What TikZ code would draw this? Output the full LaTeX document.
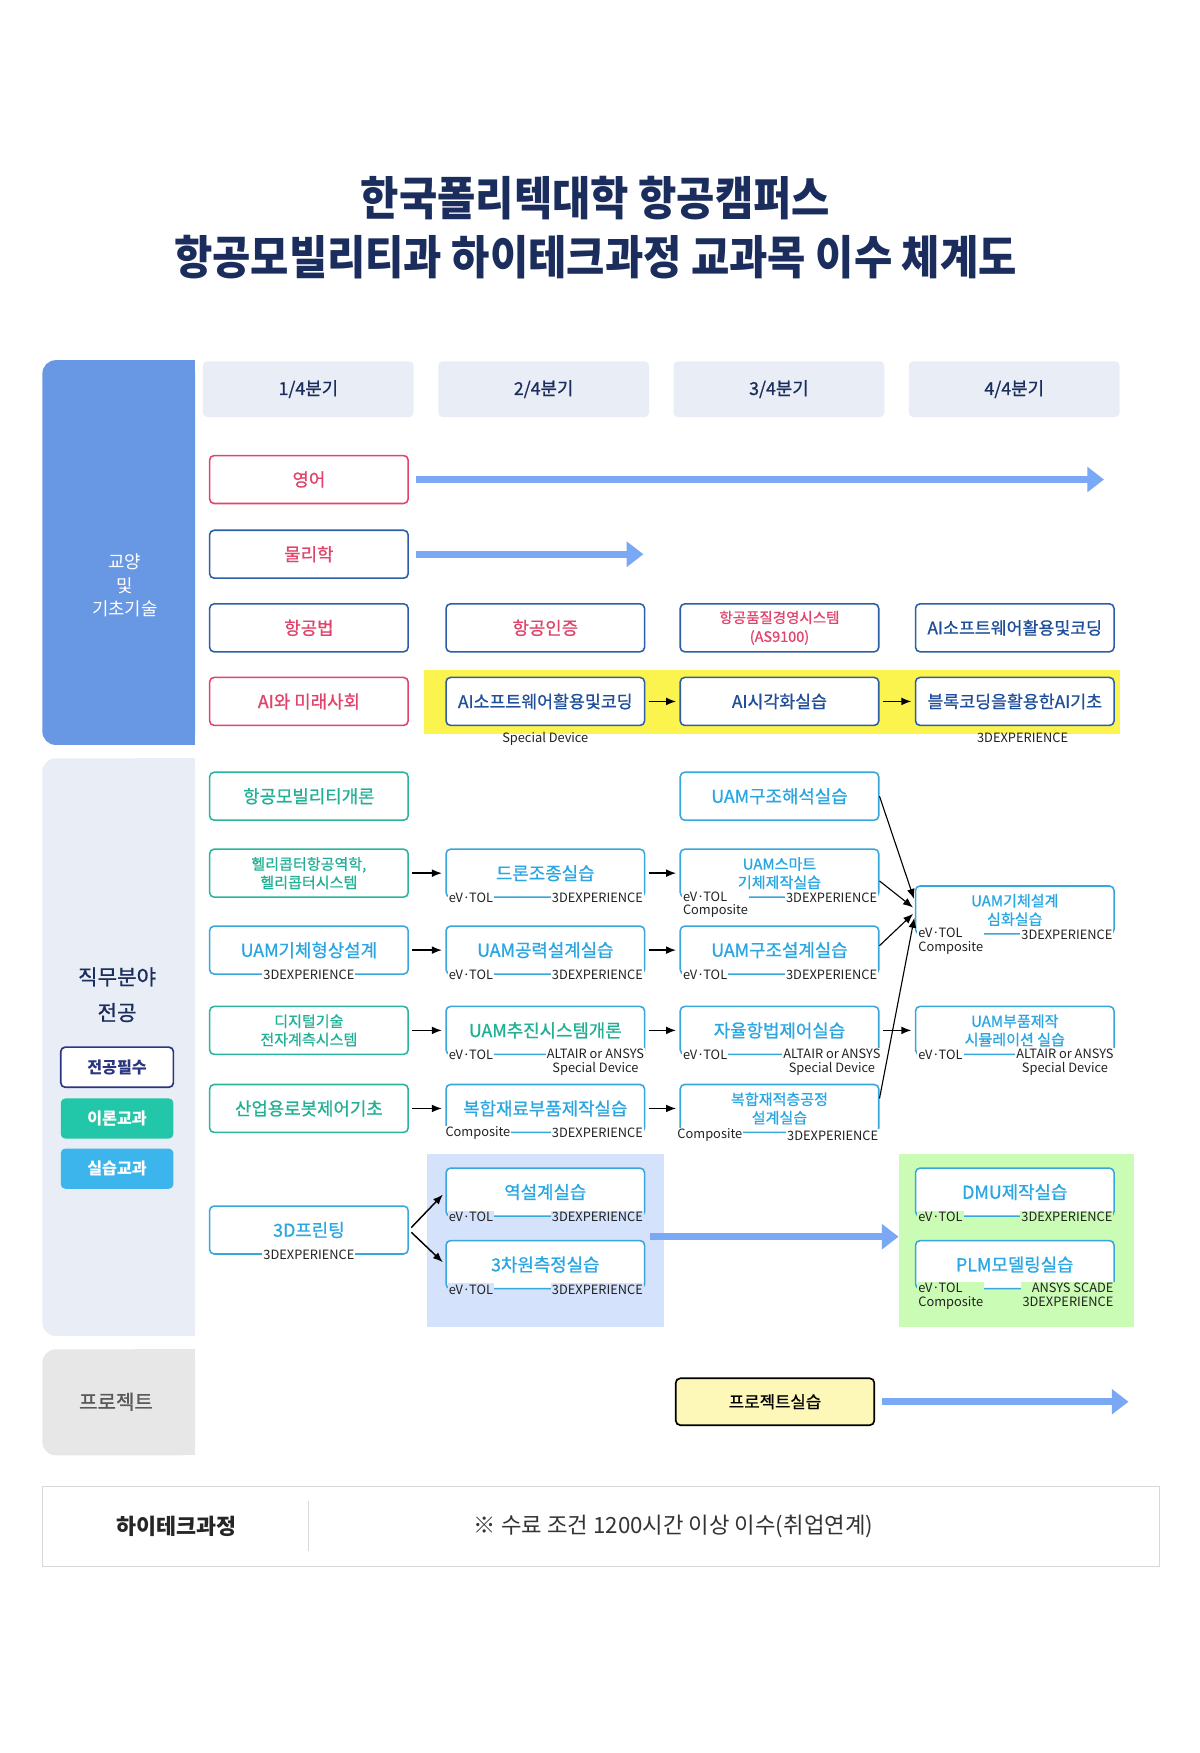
\documentclass[tikz,border=0pt]{standalone}
\usepackage{fontspec}
\setmainfont{Noto Sans CJK KR}
\newfontfamily\titlefont{Noto Sans CJK KR}[FakeStretch=0.9]
\newfontfamily\medfont{Noto Sans CJK KR}[FakeBold=0.8]
\usepackage{tikz}
\usetikzlibrary{arrows.meta,positioning}
\definecolor{titlenavy}{RGB}{27,45,92}
\definecolor{catblue}{RGB}{104,151,227}
\definecolor{catgrey}{RGB}{232,237,246}
\definecolor{projgrey}{RGB}{231,231,231}
\definecolor{qfill}{RGB}{232,237,246}
\definecolor{rot}{RGB}{224,67,107}
\definecolor{navyline}{RGB}{45,95,168}
\definecolor{navytext}{RGB}{31,78,154}
\definecolor{tealline}{RGB}{42,181,156}
\definecolor{tealtext}{RGB}{34,176,149}
\definecolor{blueline}{RGB}{56,168,220}
\definecolor{bluetext}{RGB}{42,166,227}
\definecolor{flowblue}{RGB}{123,168,245}
\definecolor{yband}{RGB}{251,243,78}
\definecolor{lbband}{RGB}{212,226,251}
\definecolor{gband}{RGB}{203,252,181}
\definecolor{projfill}{RGB}{253,248,183}
\definecolor{legnavy}{RGB}{43,53,128}
\definecolor{legteal}{RGB}{34,199,169}
\definecolor{legblue}{RGB}{60,181,236}
\definecolor{tagtext}{RGB}{34,34,34}
\definecolor{footline}{RGB}{216,216,216}

\begin{document}
\begin{tikzpicture}[x=1pt, y=-1pt, >={Latex[length=9pt,width=7pt]},
    course/.style={draw, rounded corners=4pt, line width=1.4pt, fill=white,
        minimum width=178pt, minimum height=43pt, inner sep=1pt, align=center,
        font=\medfont\fontsize{16}{18}\selectfont},
    twoline/.style={font=\medfont\fontsize{13.5}{16.5}\selectfont},
    redbox/.style={course, draw=rot, text=rot},
    navybox/.style={course, draw=navyline, text=rot},
    aibox/.style={course, draw=navyline, text=navytext, font=\medfont\fontsize{15.5}{18}\selectfont},
    tealbox/.style={course, draw=tealline, text=tealtext},
    bluebox/.style={course, draw=blueline, text=bluetext},
    tag/.style={fill=white, inner sep=1pt, text=tagtext, font=\fontsize{11.5}{12.5}\selectfont},
    qbox/.style={fill=qfill, rounded corners=4pt, minimum width=189pt, minimum height=50pt,
        text=titlenavy, font=\medfont\fontsize{16}{18}\selectfont},
    legend/.style={rounded corners=4pt, minimum width=101pt, minimum height=36pt,
        font=\bfseries\fontsize{14.5}{16}\selectfont},
    flow/.style={->, line width=1.3pt, shorten <=3pt, shorten >=3pt},
    merge/.style={->, line width=1pt, shorten >=2pt},
    bigarrow/.style={draw=flowblue, line width=6pt, shorten <=6pt,
        -{Triangle[length=15pt,width=22pt]}}
]
    \fill[white] (0,0) rectangle (1076,1572);
    \useasboundingbox (0,0) rectangle (1076,1572);

    % title
    \node[font=\titlefont\bfseries\fontsize{41.5}{53}\selectfont, text=titlenavy, align=center] (title) at (534,204)
        {한국폴리텍대학 항공캠퍼스\\항공모빌리티과 하이테크과정 교과목 이수 체계도};

    % category column
    \fill[catblue, rounded corners=12pt] (38,323) rectangle (175,668);
    \fill[catblue] (120,323) rectangle (175,668);
    \fill[catgrey, rounded corners=12pt] (38,680) rectangle (175,1198);
    \fill[catgrey] (120,680) rectangle (175,1198);
    \fill[projgrey, rounded corners=12pt] (38,1210) rectangle (175,1305);
    \fill[projgrey] (120,1210) rectangle (175,1305);
    \node[text=white, align=center, font=\fontsize{16}{21}\selectfont] (cat1) at (112,525) {교양\\및\\기초기술};
    \node[text=titlenavy, align=center, font=\medfont\fontsize{19}{32}\selectfont] (cat2) at (105,892) {직무분야\\전공};
    \node[legend, draw=legnavy, line width=1.5pt, fill=white, text=legnavy] (leg1) at (105,957) {전공필수};
    \node[legend, fill=legteal, text=white] (leg2) at (105,1003) {이론교과};
    \node[legend, fill=legblue, text=white] (leg3) at (105,1048) {실습교과};
    \node[text=black!65, font=\medfont\fontsize{18}{20}\selectfont] (cat3) at (104,1257) {프로젝트};

    % quarters
    \node[qbox] (q1) at (276.5,349) {1/4분기};
    \node[qbox] (q2) at (487.5,349) {2/4분기};
    \node[qbox] (q3) at (698.5,349) {3/4분기};
    \node[qbox] (q4) at (909.5,349) {4/4분기};

    % background bands
    \node[fill=yband, minimum width=624pt, minimum height=57pt, inner sep=0pt] (yellow) at (692,629.5) {};
    \node[fill=lbband, minimum width=212pt, minimum height=155pt, inner sep=0pt] (lblock) at (489,1112.5) {};
    \node[fill=gband, minimum width=211pt, minimum height=155pt, inner sep=0pt] (gblock) at (911.5,1112.5) {};

    % general courses
    \node[redbox] (eng) at (277,430) {영어};
    \node[navybox] (phy) at (277,497) {물리학};
    \node[navybox] (law) at (277,563) {항공법};
    \node[navybox] (cert) at (489,563) {항공인증};
    \node[navybox, font=\medfont\fontsize{13}{17}\selectfont] (qms) at (699,563) {항공품질경영시스템\\(AS9100)};
    \node[aibox] (aiswa) at (910,563) {AI소프트웨어활용및코딩};
    \node[redbox] (aisoc) at (277,629) {AI와 미래사회};
    \node[aibox] (aiswb) at (489,629) {AI소프트웨어활용및코딩};
    \node[aibox] (aivis) at (699,629) {AI시각화실습};
    \node[aibox] (block) at (910,629) {블록코딩을활용한AI기초};
    \node[tag, fill=none, below=4pt of aiswb] (aiswbtag) {Special Device};
    \node[tag, fill=none, below=5pt of block, xshift=7pt] (blocktag) {3DEXPERIENCE};

    % major courses
    \node[tealbox] (intro) at (277,714) {항공모빌리티개론};
    \node[bluebox] (strana) at (699,714) {UAM구조해석실습};
    \node[tealbox, twoline] (heli) at (277,783) {헬리콥터항공역학,\\헬리콥터시스템};
    \node[bluebox] (drone) at (489,783) {드론조종실습};
    \node[bluebox, twoline] (smart) at (699,783) {UAM스마트\\기체제작실습};
    \node[bluebox, twoline] (adv) at (910,816) {UAM기체설계\\심화실습};
    \node[bluebox] (shape) at (277,852) {UAM기체형상설계};
    \node[bluebox] (aero) at (489,852) {UAM공력설계실습};
    \node[bluebox] (strdes) at (699,852) {UAM구조설계실습};
    \node[tealbox, twoline] (digi) at (277,924) {디지털기술\\전자계측시스템};
    \node[bluebox, text=tealtext] (prop) at (489,924) {UAM추진시스템개론};
    \node[bluebox] (auto) at (699,924) {자율항법제어실습};
    \node[bluebox, twoline] (part) at (910,924) {UAM부품제작\\시뮬레이션 실습};
    \node[tealbox] (robot) at (277,994) {산업용로봇제어기초};
    \node[bluebox] (compo) at (489,994) {복합재료부품제작실습};
    \node[bluebox, twoline] (lay) at (699,994) {복합재적층공정\\설계실습};
    \node[bluebox] (print) at (277,1103) {3D프린팅};
    \node[bluebox] (rev) at (489,1069) {역설계실습};
    \node[bluebox] (meas) at (489,1134) {3차원측정실습};
    \node[bluebox] (dmu) at (910,1069) {DMU제작실습};
    \node[bluebox] (plm) at (910,1134) {PLM모델링실습};

    % tools on the lower edge
    \node[tag, anchor=west] (droneL) at ([xshift=2pt]drone.south west) {eV·TOL};
    \node[tag, anchor=east] (droneR) at ([xshift=-1pt]drone.south east) {3DEXPERIENCE};
    \node[tag, anchor=north west, align=left] (smartL) at ([xshift=2pt,yshift=7pt]smart.south west) {eV·TOL\\Composite};
    \node[tag, anchor=east] (smartR) at ([xshift=-1pt]smart.south east) {3DEXPERIENCE};
    \node[tag, anchor=north west, align=left] (advL) at ([xshift=2pt,yshift=7pt]adv.south west) {eV·TOL\\Composite};
    \node[tag, anchor=east] (advR) at ([xshift=-1pt]adv.south east) {3DEXPERIENCE};
    \node[tag] (shapeC) at (shape.south) {3DEXPERIENCE};
    \node[tag, anchor=west] (aeroL) at ([xshift=2pt]aero.south west) {eV·TOL};
    \node[tag, anchor=east] (aeroR) at ([xshift=-1pt]aero.south east) {3DEXPERIENCE};
    \node[tag, anchor=west] (strdesL) at ([xshift=2pt]strdes.south west) {eV·TOL};
    \node[tag, anchor=east] (strdesR) at ([xshift=-1pt]strdes.south east) {3DEXPERIENCE};
    \node[tag, anchor=west] (propL) at ([xshift=2pt]prop.south west) {eV·TOL};
    \node[tag, anchor=north east, align=center] (propR) at ([yshift=7pt]prop.south east) {ALTAIR or ANSYS\\Special Device};
    \node[tag, anchor=west] (autoL) at ([xshift=2pt]auto.south west) {eV·TOL};
    \node[tag, anchor=north east, align=center] (autoR) at ([xshift=2pt,yshift=7pt]auto.south east) {ALTAIR or ANSYS\\Special Device};
    \node[tag, anchor=west] (partL) at ([xshift=2pt]part.south west) {eV·TOL};
    \node[tag, anchor=north east, align=center] (partR) at ([yshift=7pt]part.south east) {ALTAIR or ANSYS\\Special Device};
    \node[tag, anchor=west] (compoL) at ([xshift=-1pt]compo.south west) {Composite};
    \node[tag, anchor=east] (compoR) at ([xshift=-1pt]compo.south east) {3DEXPERIENCE};
    \node[tag, anchor=west] (layL) at ([xshift=-3pt,yshift=-2pt]lay.south west) {Composite};
    \node[tag, anchor=east] (layR) at ([yshift=-2pt]lay.south east) {3DEXPERIENCE};
    \node[tag] (printC) at (print.south) {3DEXPERIENCE};
    \node[tag, fill=lbband, anchor=west] (revL) at ([xshift=2pt]rev.south west) {eV·TOL};
    \node[tag, fill=lbband, anchor=east] (revR) at ([xshift=-1pt]rev.south east) {3DEXPERIENCE};
    \node[tag, fill=lbband, anchor=west] (measL) at ([xshift=2pt]meas.south west) {eV·TOL};
    \node[tag, fill=lbband, anchor=east] (measR) at ([xshift=-1pt]meas.south east) {3DEXPERIENCE};
    \node[tag, fill=gband, anchor=west] (dmuL) at ([xshift=2pt]dmu.south west) {eV·TOL};
    \node[tag, fill=gband, anchor=east] (dmuR) at ([xshift=-1pt]dmu.south east) {3DEXPERIENCE};
    \node[tag, fill=gband, anchor=north west, align=left] (plmL) at ([xshift=2pt,yshift=7pt]plm.south west) {eV·TOL\\Composite};
    \node[tag, fill=gband, anchor=north east, align=right] (plmR) at ([yshift=7pt]plm.south east) {ANSYS SCADE\\3DEXPERIENCE};

    % project
    \node[draw=black, line width=1.5pt, fill=projfill, rounded corners=4pt, minimum width=178pt,
        minimum height=42pt, font=\medfont\fontsize{15}{16}\selectfont] (proj) at (695,1257) {프로젝트실습};

    % thick flow arrows
    \coordinate (engend) at (990,430);
    \coordinate (phyend) at (577,497);
    \coordinate (projend) at (1012,1257);
    \draw[bigarrow] (eng) -- (engend);
    \draw[bigarrow] (phy) -- (phyend);
    \draw[bigarrow] (proj) -- (projend);
    \draw[bigarrow, shorten <=0pt] ([xshift=-12pt,yshift=3.5pt]lblock.east) -- ([yshift=3.5pt]gblock.west);

    % course arrows
    \draw[flow] (aiswb) -- (aivis);
    \draw[flow] (aivis) -- (block);
    \draw[flow] (heli) -- (drone);
    \draw[flow] (drone) -- (smart);
    \draw[flow] (shape) -- (aero);
    \draw[flow] (aero) -- (strdes);
    \draw[flow] (digi) -- (prop);
    \draw[flow] (prop) -- (auto);
    \draw[flow] (auto) -- (part);
    \draw[flow] (robot) -- (compo);
    \draw[flow] (compo) -- (lay);
    \draw[flow] (print.east) -- (rev.west);
    \draw[flow] (print.east) -- (meas.west);
    \draw[merge] (strana.east) -- ([yshift=8pt]adv.west);
    \draw[merge] ([yshift=-7pt]smart.east) -- ([yshift=1pt]adv.west);
    \draw[merge] ([yshift=4pt]strdes.east) -- ([yshift=-2pt]adv.west);
    \draw[merge] ([yshift=9pt]lay.east) -- ([yshift=-5pt]adv.west);

    % footer
    \node[draw=footline, line width=1pt, minimum width=1002pt, minimum height=72pt] (foot) at (539,1369) {};
    \draw[footline, line width=1pt] (277,1346) -- (277,1391);
    \node[font=\bfseries\fontsize{19.5}{20}\selectfont, text=black!85] (ftitle) at (158,1369) {하이테크과정};
    \node[font=\fontsize{20}{22}\selectfont, text=black!80] (fnote) at (604,1369) {※ 수료 조건 1200시간 이상 이수(취업연계)};
\end{tikzpicture}
\end{document}
